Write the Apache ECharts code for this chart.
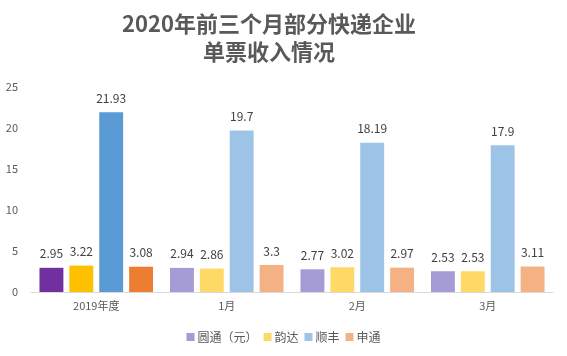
<!DOCTYPE html>
<html><head><meta charset="utf-8">
<script src="https://cdn.jsdelivr.net/npm/echarts@6/dist/echarts.min.js"></script>
<style>html,body{margin:0;padding:0;background:#fff}#c{width:567px;height:356px}</style>
</head><body><div id="c"></div>
<script>
const categories = ['2019年度', '1月', '2月', '3月'];
const seriesNames = ['圆通（元）', '韵达', '顺丰', '申通'];
const yuantong = [2.95, 2.94, 2.77, 2.53];
const yunda = [3.22, 2.86, 3.02, 2.53];
const shunfeng = [21.93, 19.7, 18.19, 17.9];
const shentong = [3.08, 3.3, 2.97, 3.11];
const yTicks = [0, 5, 10, 15, 20, 25];

const darkColors = ['#7030A0', '#FFC000', '#5B9BD5', '#ED7D31'];
const lightColors = ['#A59BD5', '#FFD966', '#9DC3E6', '#F4B183'];
const values = [yuantong, yunda, shunfeng, shentong];
const font = '"Noto Sans CJK SC", "Noto Sans", sans-serif';

const chart = echarts.init(document.getElementById('c'));
chart.setOption({
  animation: false,
  textStyle: { fontFamily: font },
  title: {
    text: '2020年前三个月部分快递企业\n单票收入情况',
    left: 264, top: 5,
    textAlign: 'center',
    textStyle: { fontSize: 22, fontWeight: 'bold', color: '#595959', lineHeight: 28, fontFamily: font }
  },
  legend: {
    bottom: 8, left: 'center',
    itemWidth: 8, itemHeight: 8, itemGap: 6,
    icon: 'rect',
    textStyle: { fontSize: 12, color: '#595959', fontFamily: font, padding: [0, 0, 0, -2] },
    data: seriesNames.map((n, i) => ({ name: n, itemStyle: { color: lightColors[i] } }))
  },
  grid: { left: 31, right: 14, top: 87, bottom: 64 },
  xAxis: {
    type: 'category', data: categories,
    axisTick: { show: false },
    axisLine: { lineStyle: { color: '#D9D9D9' } },
    axisLabel: { color: '#595959', fontSize: 11, margin: 8, fontFamily: font }
  },
  yAxis: {
    type: 'value', min: 0, max: 25, interval: 5,
    splitLine: { show: false },
    axisLine: { show: false }, axisTick: { show: false },
    axisLabel: { color: '#595959', fontSize: 11, margin: 13, fontFamily: font }
  },
  series: seriesNames.map((n, i) => ({
    name: n, type: 'bar',
    barGap: '25%', barCategoryGap: '13%',
    itemStyle: { color: lightColors[i] },
    data: values[i].map((v, j) => ({ value: v, itemStyle: { color: j === 0 ? darkColors[i] : lightColors[i] } })),
    label: { show: true, position: 'top', distance: 8, color: '#404040', fontSize: 12, fontFamily: font }
  }))
});
</script></body></html>
